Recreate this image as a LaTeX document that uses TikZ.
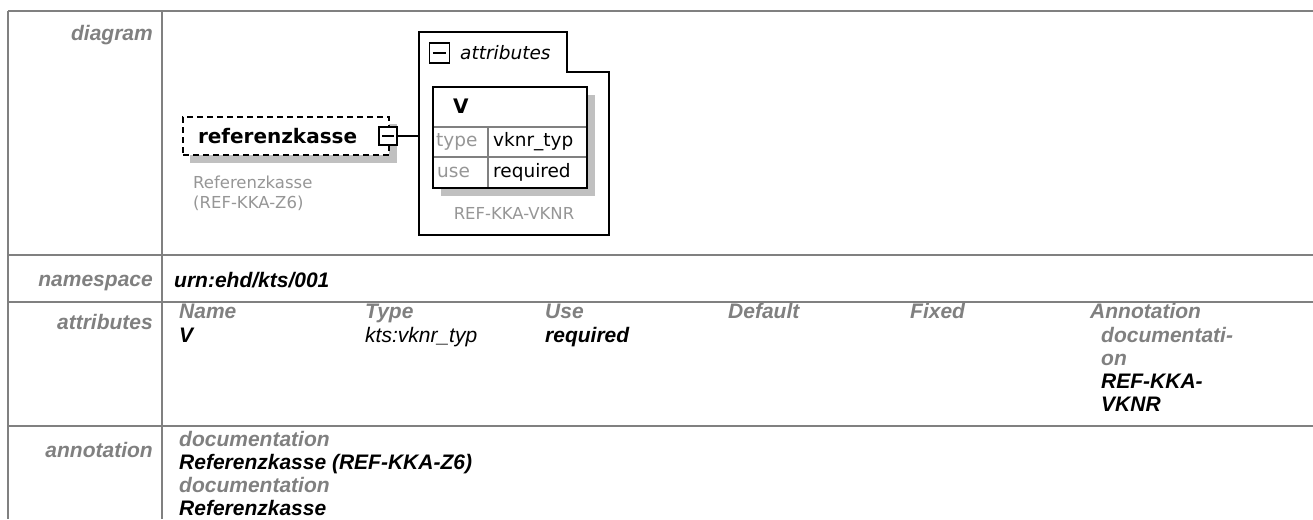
\documentclass[tikz,border=0pt]{standalone}
\usepackage{fontspec}
\setmainfont{Liberation Sans}
\newfontfamily\dgmfont{DejaVu Sans}
\usepackage{tikz}
\usetikzlibrary{positioning}
\usepackage{xcolor}
\definecolor{tblgray}{RGB}{128,128,128}
\definecolor{lblgray}{RGB}{128,128,128}
\definecolor{dgmgray}{RGB}{150,150,150}
\definecolor{shadowgray}{RGB}{192,192,192}
\tikzstyle{rowline} = [draw=tblgray, line width=2pt]
\tikzstyle{rowlabel} = [anchor=base east, inner sep=0pt, text=lblgray, font=\fontsize{21}{23}\selectfont\bfseries\itshape]
\tikzstyle{colhead} = [anchor=base west, inner sep=0pt, text=lblgray, font=\fontsize{21}{23}\selectfont\bfseries\itshape]
\tikzstyle{cellval} = [anchor=base west, inner sep=0pt, text=black, font=\fontsize{21}{23}\selectfont\bfseries\itshape]
\tikzstyle{cellplain} = [anchor=base west, inner sep=0pt, text=black, font=\fontsize{21}{23}\selectfont\itshape]
\tikzstyle{dgtext} = [anchor=west, inner sep=0pt, font=\dgmfont\fontsize{18.5}{20}\selectfont]
\tikzstyle{dgnote} = [inner sep=0pt, text=dgmgray, font=\dgmfont\fontsize{16.5}{18}\selectfont]
\tikzstyle{elembox} = [rectangle, draw, dashed, dash pattern=on 6pt off 4pt, line width=1.6pt, fill=white, text width=176pt, align=left, inner xsep=15pt, minimum height=38pt, font=\dgmfont\bfseries\fontsize{20}{22}\selectfont]
\tikzstyle{expbox} = [rectangle, draw, line width=1.3pt, fill=white, minimum size=18pt, inner sep=0pt]
\tikzstyle{conn} = [line width=1.3pt]

\begin{document}
\begin{tikzpicture}[x=1pt,y=-1pt]
\useasboundingbox (0,0) rectangle (1313,519);
% table grid
\draw[rowline] (8,11) -- (1313,11);
\draw[rowline] (8,255) -- (1313,255);
\draw[rowline] (8,302) -- (1313,302);
\draw[rowline] (8,426) -- (1313,426);
\draw[rowline] (8,11) -- (8,519);
\draw[rowline] (162,11) -- (162,519);
% row labels
\node[rowlabel] (ldiagram) at (153,41) {diagram};
\node[rowlabel] (lnamespace) at (153,286) {namespace};
\node[rowlabel] (lattributes) at (153,329) {attributes};
\node[rowlabel] (lannotation) at (153,457) {annotation};
% namespace row
\node[cellval] (nsval) at (174,287) {urn:ehd/kts/001};
% attributes row
\node[colhead] (hname) at (179,318) {Name};
\node[colhead] (htype) at (365,318) {Type};
\node[colhead] (huse) at (545,318) {Use};
\node[colhead] (hdefault) at (728,318) {Default};
\node[colhead] (hfixed) at (910,318) {Fixed};
\node[colhead] (hanno) at (1090,318) {Annotation};
\node[cellval] (vname) at (179,342) {V};
\node[cellplain] (vtype) at (365,342) {kts:vknr\_typ};
\node[cellval] (vuse) at (545,342) {required};
\node[colhead] (vdoc1) at (1101,342) {documentati-};
\node[colhead] (vdoc2) at (1101,365) {on};
\node[cellval] (vanno1) at (1101,388) {REF-KKA-};
\node[cellval] (vanno2) at (1101,411) {VKNR};
% annotation row
\node[colhead] (adoc1) at (179,446) {documentation};
\node[cellval] (atext1) at (179,469) {Referenzkasse (REF-KKA-Z6)};
\node[colhead] (adoc2) at (179,492) {documentation};
\node[cellval] (atext2) at (179,515) {Referenzkasse};

% diagram: element
\fill[shadowgray] (190,124) rectangle (397,163);
\node[elembox] (refk) at (286,136) {referenzkasse};
\node[dgnote, anchor=west] (refkdoc1) at (193,182) {Referenzkasse};
\node[dgnote, anchor=west] (refkdoc2) at (193,203) {(REF-KKA-Z6)};
\node[expbox] (refkexp) at (388,136) {};
\draw[conn] ([xshift=4pt]refkexp.west) -- ([xshift=-4pt]refkexp.east);
\coordinate (grpin) at (419,136);
\draw[conn] (refkexp.east) -- (grpin);
% diagram: attribute group
\draw[conn, line width=1.6pt] (419,32) -- (567,32) -- (567,72) -- (609,72) -- (609,235) -- (419,235) -- cycle;
\node[expbox, minimum size=20pt] (grpexp) at (439.5,53) {};
\draw[conn] ([xshift=4pt]grpexp.west) -- ([xshift=-4pt]grpexp.east);
\node[dgtext, font=\dgmfont\itshape\fontsize{18.5}{20}\selectfont] (grplbl) at (460,53) {attributes};
% attribute V
\fill[shadowgray] (441,95) rectangle (595,196);
\draw[fill=white, line width=1.6pt] (433,87) rectangle (587,188);
\draw[draw=tblgray, line width=1.2pt] (433,127) -- (587,127);
\draw[draw=tblgray, line width=1.2pt] (433,157) -- (587,157);
\draw[draw=tblgray, line width=1.2pt] (488,127) -- (488,188);
\draw[line width=1.6pt] (433,87) rectangle (587,188);
\node[dgtext, font=\dgmfont\bfseries\fontsize{20}{22}\selectfont] (attv) at (453,106) {V};
\node[dgnote, anchor=west, font=\dgmfont\fontsize{18.5}{20}\selectfont] (atttypek) at (436,142) {type};
\node[dgtext] (atttypev) at (493,142) {vknr\_typ};
\node[dgnote, anchor=west, font=\dgmfont\fontsize{18.5}{20}\selectfont] (attusek) at (437,172) {use};
\node[dgtext] (attusev) at (493,172) {required};
\node[dgnote] (attdoc) at (514,213) {REF-KKA-VKNR};
\end{tikzpicture}
\end{document}
